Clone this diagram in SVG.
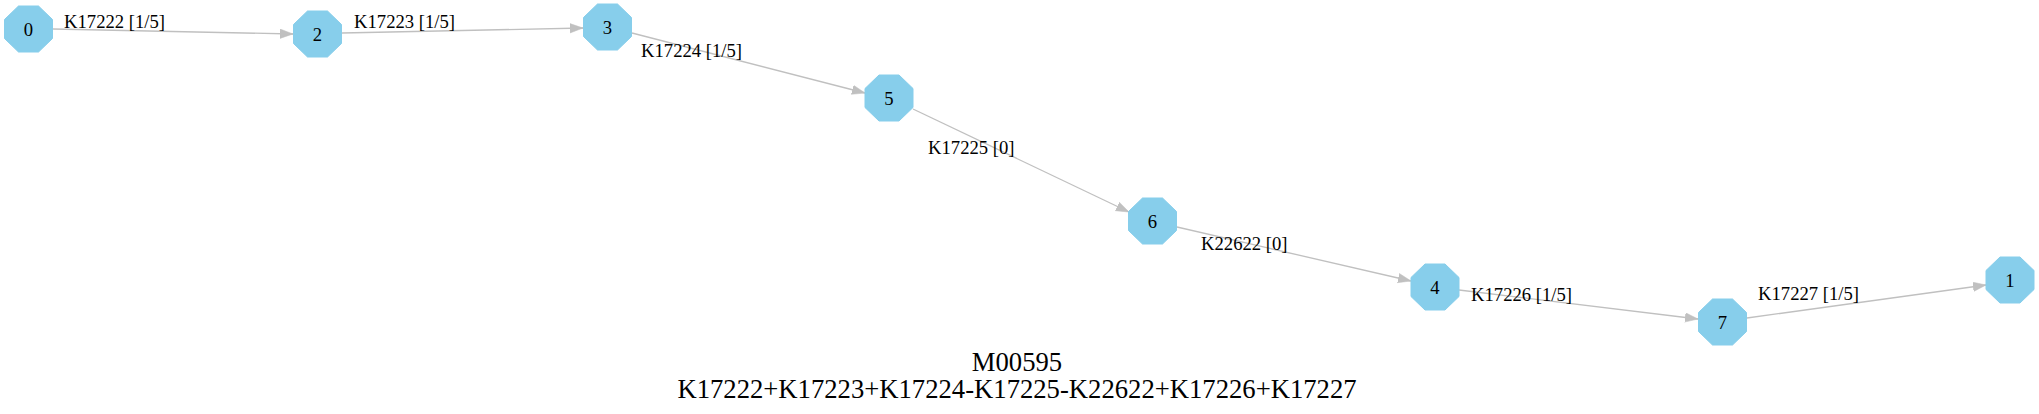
<svg xmlns="http://www.w3.org/2000/svg" xmlns:xlink="http://www.w3.org/1999/xlink" width="2039" height="414" viewBox="0 0 2039 414">
<style>
.node polygon, .node use { fill: #87ceeb; stroke: #87ceeb; stroke-width: 1; }
.node text { font-family: "Liberation Serif", "Times New Roman", serif; font-size: 18.67px; fill: #000; text-anchor: middle; }
.edge { stroke: #c0c0c0; stroke-width: 1.3; fill: none; }
.elabel { font-family: "Liberation Serif", "Times New Roman", serif; font-size: 18.67px; fill: #000; }
.title { font-family: "Liberation Serif", "Times New Roman", serif; font-size: 26.67px; fill: #000; text-anchor: middle; }
</style>
<defs>
<polygon id="oct" points="-10,-23 10,-23 24,-9.5 24,9.5 10,23 -10,23 -24,9.5 -24,-9.5"/>
<marker id="arr" markerUnits="userSpaceOnUse" markerWidth="14" markerHeight="11" refX="13" refY="5" orient="auto">
<polygon points="0,0.3 13,5 0,9.7" fill="#c0c0c0" stroke="#c0c0c0" stroke-width="0.5"/>
</marker>
</defs>
<rect width="2039" height="414" fill="#ffffff"/>
<g id="connectors">
<path class="edge" d="M53,29 L293,34" marker-end="url(#arr)"/>
<path class="edge" d="M342,33 L583,28" marker-end="url(#arr)"/>
<path class="edge" d="M632,33 L865,93" marker-end="url(#arr)"/>
<path class="edge" d="M913,109 L1129,212" marker-end="url(#arr)"/>
<path class="edge" d="M1177,227 L1411,281" marker-end="url(#arr)"/>
<path class="edge" d="M1459,290 L1698,319" marker-end="url(#arr)"/>
<path class="edge" d="M1747,318 L1986,285" marker-end="url(#arr)"/>
<text class="elabel" x="64" y="28">K17222 [1/5]</text>
<text class="elabel" x="354" y="28">K17223 [1/5]</text>
<text class="elabel" x="641" y="57">K17224 [1/5]</text>
<text class="elabel" x="928" y="154">K17225 [0]</text>
<text class="elabel" x="1201" y="250">K22622 [0]</text>
<text class="elabel" x="1471" y="301">K17226 [1/5]</text>
<text class="elabel" x="1758" y="300">K17227 [1/5]</text>
</g>
<g id="node0" class="node"><use xlink:href="#oct" x="28.5" y="29"/><text x="28.5" y="35.5">0</text></g>
<g id="node2" class="node"><use xlink:href="#oct" x="317.5" y="34"/><text x="317.5" y="40.5">2</text></g>
<g id="node3" class="node"><use xlink:href="#oct" x="607.5" y="27"/><text x="607.5" y="33.5">3</text></g>
<g id="node5" class="node"><use xlink:href="#oct" x="889" y="98"/><text x="889" y="104.5">5</text></g>
<g id="node6" class="node"><use xlink:href="#oct" x="1152.5" y="221"/><text x="1152.5" y="227.5">6</text></g>
<g id="node4" class="node"><use xlink:href="#oct" x="1435" y="287"/><text x="1435" y="293.5">4</text></g>
<g id="node7" class="node"><use xlink:href="#oct" x="1722.5" y="322"/><text x="1722.5" y="328.5">7</text></g>
<g id="node1" class="node"><use xlink:href="#oct" x="2010" y="280"/><text x="2010" y="286.5">1</text></g>
<g id="title">
<text class="title" x="1017" y="371">M00595</text>
<text class="title" x="1017" y="398">K17222+K17223+K17224-K17225-K22622+K17226+K17227</text>
</g>
</svg>
